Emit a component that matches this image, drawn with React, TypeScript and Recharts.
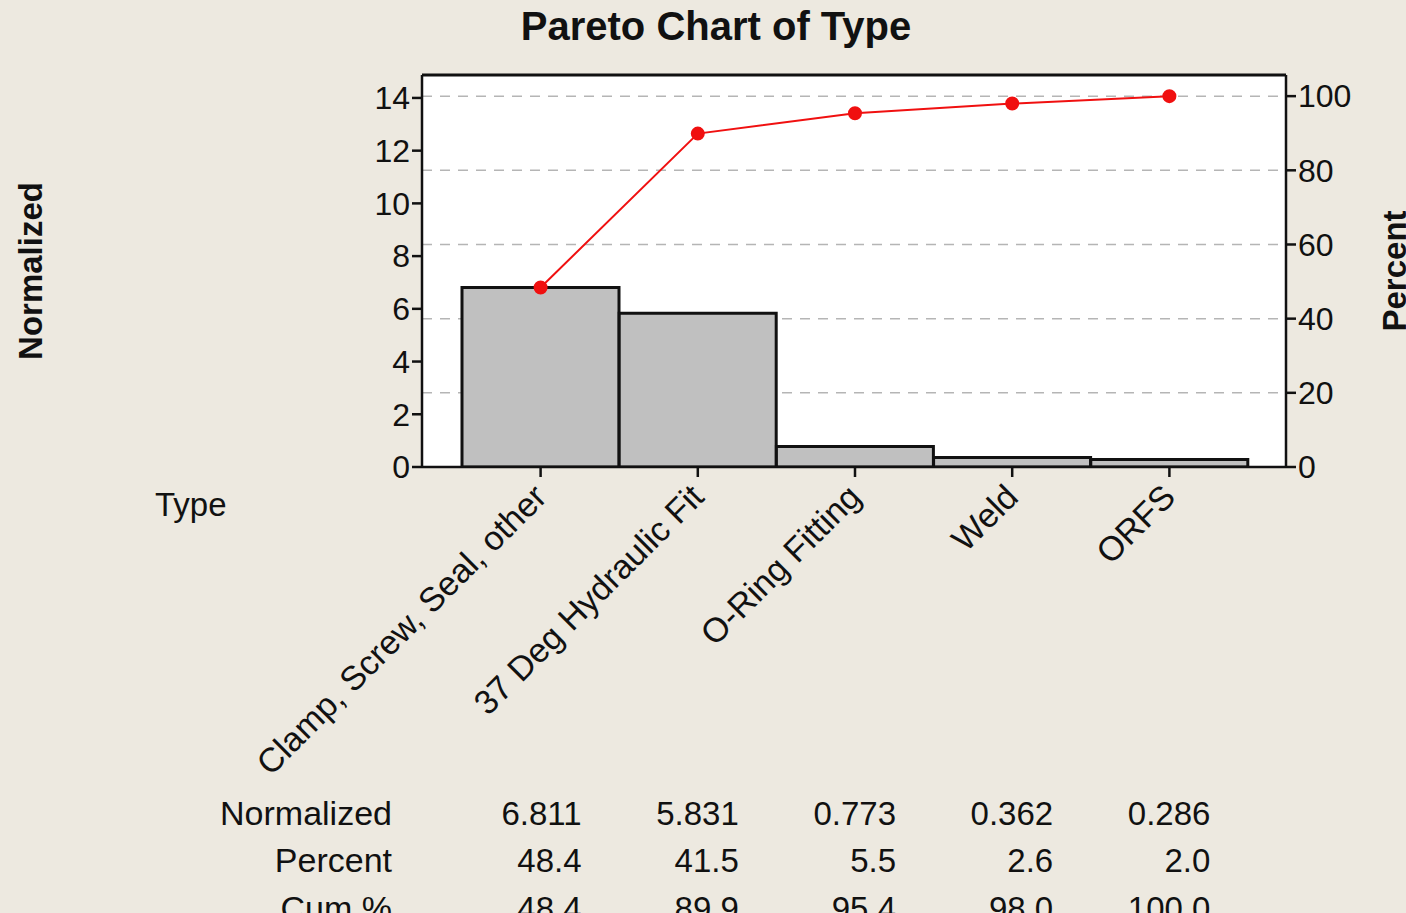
import React from 'react';
import {
  ComposedChart,
  Bar,
  Line,
  XAxis,
  YAxis,
  CartesianGrid,
} from 'recharts';

const categories = ['Clamp, Screw, Seal, other', '37 Deg Hydraulic Fit', 'O-Ring Fitting', 'Weld', 'ORFS'];
const normalized = [6.811, 5.831, 0.773, 0.362, 0.286];
const percent = [48.4, 41.5, 5.5, 2.6, 2.0];
const cumPercent = [48.4, 89.9, 95.4, 98.0, 100.0];
const leftTicks = [0, 2, 4, 6, 8, 10, 12, 14];
const rightTicks = [0, 20, 40, 60, 80, 100];
const rowLabels = ['Normalized', 'Percent', 'Cum %'];

const data = categories.map((c, i) => ({
  type: c,
  normalized: normalized[i],
  percent: percent[i],
  cum: cumPercent[i],
}));

const FONT = '"Liberation Sans", Arial, sans-serif';
const BG = '#EDE9E0';

// rotated category label + the table values under each category
const CategoryTick = (props: any) => {
  const { x, y, payload, index } = props;
  const rows = [
    normalized[index].toFixed(3),
    percent[index].toFixed(1),
    cumPercent[index].toFixed(1),
  ];
  const rowY = [y + 346, y + 393, y + 441];
  return (
    <g>
      <text
        transform={`translate(${x + 8},${y + 20}) rotate(-45)`}
        textAnchor="end"
        fontSize={34}
        fontFamily={FONT}
        fill="#111"
      >
        {payload.value}
      </text>
      {rows.map((v, i) => (
        <text key={i} x={x + 41} y={rowY[i]} textAnchor="end" fontSize={33} fontFamily={FONT} fill="#111">
          {v}
        </text>
      ))}
    </g>
  );
};

const axisStyle = { stroke: '#111', strokeWidth: 2.5 };
const tickStyle = { fontSize: 32, fontFamily: FONT, fill: '#111' };

const App: React.FC = () => {
  return (
    <div style={{ position: 'absolute', left: 0, top: 0, width: 1406, height: 913, background: BG, overflow: 'hidden' }}>
      <ComposedChart
        width={1406}
        height={913}
        data={data}
        barCategoryGap={0}
        margin={{ top: 74, right: 0, left: 0, bottom: 0 }}
      >
        <CartesianGrid
          yAxisId="right"
          vertical={false}
          fill="#fff"
          stroke="#b5b5b5"
          strokeWidth={1.5}
          strokeDasharray="10 8"
        />
        <XAxis
          dataKey="type"
          height={446}
          interval={0}
          padding={{ left: 40, right: 38 }}
          axisLine={axisStyle}
          tickLine={axisStyle}
          tickSize={10}
          tick={<CategoryTick />}
        />
        <XAxis
          xAxisId="top"
          dataKey="type"
          orientation="top"
          height={1}
          tick={false}
          tickLine={false}
          axisLine={{ stroke: '#111', strokeWidth: 3 }}
        />
        <YAxis
          yAxisId="left"
          width={422}
          domain={[0, 14.87]}
          ticks={leftTicks}
          allowDataOverflow
          axisLine={axisStyle}
          tickLine={axisStyle}
          tickSize={10}
          tick={tickStyle}
        />
        <YAxis
          yAxisId="right"
          orientation="right"
          width={120}
          domain={[0, 105.7]}
          ticks={rightTicks}
          allowDataOverflow
          axisLine={axisStyle}
          tickLine={axisStyle}
          tickSize={10}
          tick={{ ...tickStyle, textAnchor: 'start' }}
        />
        <Bar
          yAxisId="left"
          dataKey="normalized"
          fill="#C0C0C0"
          stroke="#111"
          strokeWidth={3}
          isAnimationActive={false}
        />
        <Line
          yAxisId="right"
          dataKey="cum"
          type="linear"
          stroke="#f01010"
          strokeWidth={2}
          dot={{ r: 6, fill: '#f01010', stroke: '#f01010' }}
          isAnimationActive={false}
        />
      </ComposedChart>
      <svg width={1406} height={913} style={{ position: 'absolute', left: 0, top: 0, pointerEvents: 'none' }}>
        <text x={716} y={40} textAnchor="middle" fontSize={40} fontWeight="bold" fontFamily={FONT} fill="#111">
          Pareto Chart of Type
        </text>
        <text transform="translate(42,271) rotate(-90)" textAnchor="middle" fontSize={33} fontWeight="bold" fontFamily={FONT} fill="#111">
          Normalized
        </text>
        <text transform="translate(1406,271) rotate(-90)" textAnchor="middle" fontSize={33} fontWeight="bold" fontFamily={FONT} fill="#111">
          Percent
        </text>
        <text x={155} y={516} fontSize={33} fontFamily={FONT} fill="#111">
          Type
        </text>
        {rowLabels.map((l, i) => (
          <text key={l} x={392} y={[825, 872, 920][i]} textAnchor="end" fontSize={34} fontFamily={FONT} fill="#111">
            {l}
          </text>
        ))}
      </svg>
    </div>
  );
};

export default App;
